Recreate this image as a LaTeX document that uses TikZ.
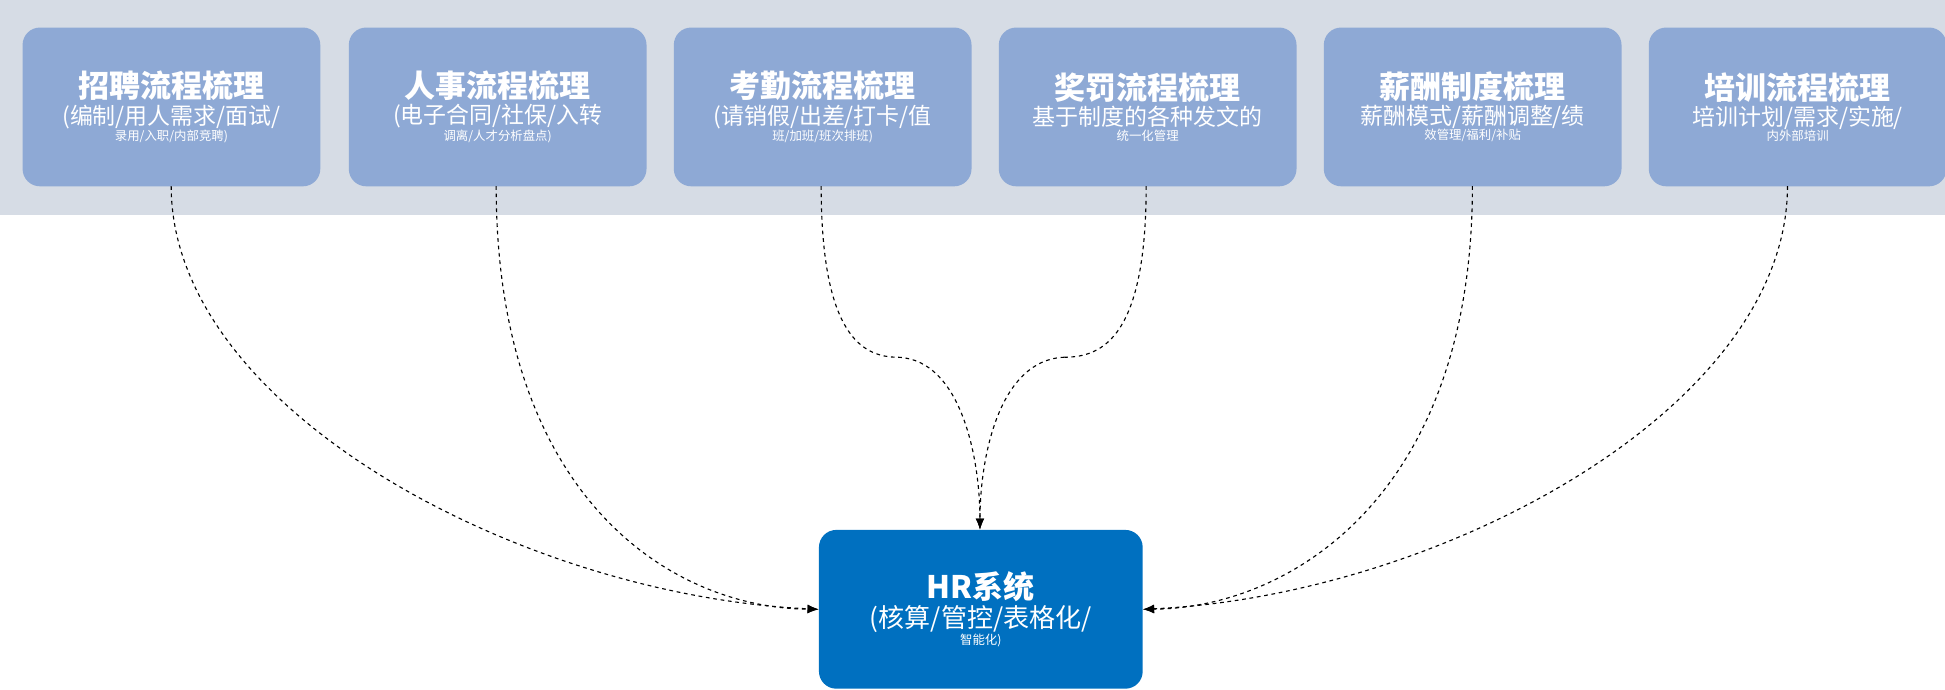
\documentclass[tikz,border=0pt]{standalone}
\usepackage{fontspec}
\setmainfont{Noto Sans CJK SC}
\usetikzlibrary{arrows.meta}
\definecolor{band}{HTML}{D6DCE5}
\definecolor{boxc}{HTML}{8EA9D5}
\definecolor{hrc}{HTML}{0070C0}
\tikzset{
  topbox/.style={fill=boxc,rounded corners=14pt,minimum width=240pt,minimum height=128pt,anchor=north west,inner sep=0pt,text=white,align=center},
  hrbox/.style={fill=hrc,rounded corners=14pt,minimum width=261pt,minimum height=128pt,anchor=north west,inner sep=0pt,text=white,align=center},
  conn/.style={dashed,line width=0.9pt,-{Latex[length=9pt,width=7pt]}},
  seg/.style={dashed,line width=0.9pt}
}
\newcommand{\boxtitle}[1]{{\fontsize{25}{30}\selectfont\bfseries #1}\\[2pt]}
\newcommand{\boxsub}[1]{\fontsize{18.5}{26}\selectfont #1}
\begin{document}
\begin{tikzpicture}[x=1pt,y=-1pt]
\useasboundingbox (0,0) rectangle (1568,556);
\fill[band] (0,0) rectangle (1568,173);
\node[topbox] (b1) at (18,22) {\boxtitle{招聘流程梳理}\boxsub{(编制/用人需求/面试/\\录用/入职/内部竞聘)}};
\node[topbox] (b2) at (281,22) {\boxtitle{人事流程梳理}\boxsub{(电子合同/社保/入转\\调离/人才分析盘点)}};
\node[topbox] (b3) at (543,22) {\boxtitle{考勤流程梳理}\boxsub{(请销假/出差/打卡/值\\班/加班/班次排班)}};
\node[topbox] (b4) at (805,22) {\boxtitle{奖罚流程梳理}\boxsub{基于制度的各种发文的\\统一化管理}};
\node[topbox] (b5) at (1067,22) {\boxtitle{薪酬制度梳理}\boxsub{薪酬模式/薪酬调整/绩\\效管理/福利/补贴}};
\node[topbox] (b6) at (1329,22) {\boxtitle{培训流程梳理}\boxsub{培训计划/需求/实施/\\内外部培训}};
\node[hrbox] (hr) at (660,427) {\boxtitle{HR系统}\fontsize{21}{28}\selectfont (核算/管控/表格化/\\智能化)};
\coordinate (m3) at (724,288);
\coordinate (m4) at (858,288);
\coordinate (t) at (790,427);
\draw[conn] (138,150) .. controls (138,330) and (420,480) .. (hr.west);
\draw[conn] (400,150) .. controls (400,400) and (540,490) .. (hr.west);
\draw[seg] (662,150) .. controls (662,270) and (695,288) .. (m3);
\draw[conn] (m3) .. controls (775,290) and (790,370) .. (t);
\draw[seg] (924,150) .. controls (924,270) and (890,288) .. (m4);
\draw[conn] (m4) .. controls (805,290) and (790,370) .. (t);
\draw[conn] (1187,150) .. controls (1187,400) and (1040,490) .. (hr.east);
\draw[conn] (1441,150) .. controls (1441,330) and (1160,480) .. (hr.east);
\end{tikzpicture}
\end{document}
